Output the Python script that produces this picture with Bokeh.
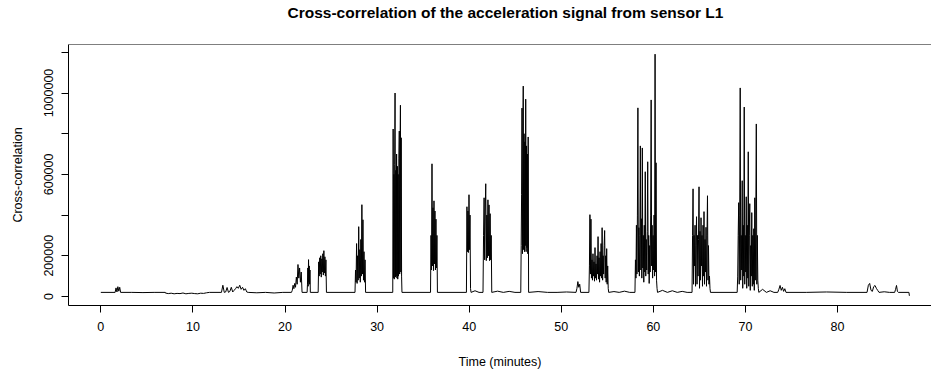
import numpy as np
from bokeh.plotting import figure
from bokeh.models import Range1d, FixedTicker, NumeralTickFormatter, Span, ColumnDataSource, Title
from bokeh.embed import file_html
from bokeh.resources import INLINE

TITLE = "Cross-correlation of the acceleration signal from sensor L1"
X_LABEL = "Time (minutes)"
Y_LABEL = "Cross-correlation"
x_ticks = [0, 10, 20, 30, 40, 50, 60, 70, 80]
y_ticks = [0, 200000, 400000, 600000, 800000, 1000000, 1200000]
y_tick_labels = ["0", "200000", "", "600000", "", "1000000", ""]

# Each segment: (start minute, end minute, values sampled evenly over the span)
quiet_a = (0.00, 1.55, [20000, 20000])
bump_02 = (1.55, 2.15, [20000, 42000, 22000, 48000, 26000, 45000, 20000])
quiet_b = (2.15, 7.00, [20000, 20000, 19000, 20000, 20000])
ripple_09 = (7.00, 11.80, [17000, 14000, 16000, 13000, 15000, 14000, 17000, 13000,
                           15000, 16000, 14000, 13000, 16000, 15000, 18000, 20000])
quiet_c = (11.80, 13.10, [20000, 20000])
cluster_14 = (13.10, 16.00, [20000, 55000, 20000, 22000, 44000, 20000, 25000, 45000,
                             22000, 30000, 38000, 48000, 40000, 55000, 35000, 45000,
                             30000, 38000, 22000, 20000])
quiet_d = (16.00, 20.70, [20000, 18000, 20000, 17000, 20000, 20000])
burst_21 = (20.70, 21.85, [20000, 30000, 55000, 38000, 64000, 45000, 95000, 60000,
                           157000, 90000, 140000, 70000, 120000, 20000])
quiet_e = (21.85, 22.40, [20000, 20000])
burst_22 = (22.40, 22.75, [20000, 60000, 140000, 50000, 181000, 70000, 150000, 60000,
                           130000, 20000])
quiet_f = (22.75, 23.60, [20000, 20000])
burst_24 = (23.60, 24.50, [20000, 170000, 100000, 190000, 110000, 200000, 95000, 185000,
                           120000, 210000, 105000, 225000, 115000, 195000, 100000,
                           180000, 20000])
quiet_g = (24.50, 27.60, [20000, 20000])
burst_28 = (27.60, 28.75, [20000, 130000, 70000, 260000, 64000, 200000, 80000, 343000,
                           90000, 230000, 70000, 280000, 100000, 451000, 110000, 377000,
                           80000, 220000, 70000, 180000, 20000])
quiet_h = (28.75, 31.70, [20000, 20000])
burst_32 = (31.70, 32.70, [20000, 823000, 90000, 600000, 85000, 650000, 1000000, 95000,
                           620000, 100000, 700000, 90000, 640000, 85000, 600000, 100000,
                           680000, 813000, 110000, 720000, 940000, 120000, 780000,
                           100000, 20000])
quiet_i = (32.70, 35.80, [20000, 20000])
burst_36 = (35.80, 36.55, [20000, 300000, 130000, 652000, 150000, 436000, 127000, 470000,
                           160000, 420000, 130000, 380000, 140000, 300000, 20000])
quiet_j = (36.55, 39.70, [20000, 20000])
burst_40 = (39.70, 40.20, [20000, 441000, 220000, 420000, 216000, 500000, 230000, 400000,
                           39000, 20000])
quiet_k = (40.20, 41.50, [20000, 28000, 20000, 20000])
burst_42 = (41.50, 42.45, [20000, 300000, 485000, 180000, 420000, 554000, 176000, 400000,
                           190000, 475000, 200000, 450000, 176000, 407000, 180000,
                           300000, 20000])
quiet_l = (42.45, 45.60, [20000, 26000, 20000, 25000, 20000, 20000])
burst_46 = (45.60, 46.45, [20000, 250000, 500000, 926000, 210000, 750000, 1034000, 230000,
                           800000, 220000, 760000, 250000, 970000, 220000, 740000,
                           240000, 700000, 210000, 784000, 20000])
quiet_m = (46.45, 51.60, [20000, 24000, 20000, 20000, 22000, 20000])
bump_52 = (51.60, 52.10, [20000, 40000, 73000, 45000, 60000, 20000])
quiet_n = (52.10, 53.00, [20000, 20000])
burst_54 = (53.00, 55.15, [20000, 150000, 402000, 110000, 380000, 90000, 180000, 80000,
                           210000, 100000, 170000, 75000, 240000, 90000, 160000, 80000,
                           200000, 110000, 294000, 85000, 190000, 70000, 220000, 100000,
                           260000, 90000, 338000, 80000, 200000, 110000, 250000, 324000,
                           90000, 200000, 70000, 235000, 60000, 150000, 40000, 20000])
quiet_o = (55.15, 58.00, [20000, 24000, 20000, 26000, 20000, 20000])
burst_59 = (58.00, 60.45, [20000, 180000, 90000, 350000, 110000, 400000, 927000, 120000,
                           338000, 100000, 300000, 740000, 130000, 382000, 90000, 730000,
                           140000, 300000, 70000, 350000, 120000, 613000, 100000, 280000,
                           130000, 320000, 662000, 110000, 300000, 64000, 250000, 120000,
                           400000, 966000, 150000, 350000, 90000, 300000, 130000, 400000,
                           100000, 1191000, 120000, 657000, 80000, 40000, 20000])
quiet_p = (60.45, 64.20, [20000, 30000, 20000, 28000, 20000, 25000, 20000, 20000])
burst_65 = (64.20, 66.20, [20000, 300000, 529000, 60000, 300000, 150000, 350000, 50000,
                           250000, 392000, 60000, 300000, 100000, 280000, 539000, 40000,
                           320000, 80000, 387000, 150000, 300000, 50000, 350000, 100000,
                           417000, 60000, 280000, 120000, 340000, 50000, 300000, 495000,
                           80000, 250000, 60000, 100000, 40000, 20000])
quiet_q = (66.20, 69.10, [20000, 20000])
burst_70 = (69.10, 71.45, [20000, 100000, 300000, 461000, 60000, 400000, 1025000, 80000,
                           300000, 130000, 569000, 40000, 350000, 100000, 931000, 60000,
                           300000, 120000, 490000, 40000, 350000, 90000, 711000, 50000,
                           300000, 456000, 30000, 250000, 100000, 412000, 50000, 300000,
                           60000, 333000, 30000, 485000, 80000, 400000, 848000, 60000,
                           300000, 80000, 40000, 20000])
quiet_r = (71.45, 73.50, [20000, 35000, 20000, 28000, 20000, 20000])
bump_74 = (73.50, 74.40, [20000, 35000, 54000, 30000, 45000, 25000, 38000, 20000])
quiet_s = (74.40, 83.20, [20000, 20000, 22000, 20000, 20000])
bump_84 = (83.20, 84.50, [20000, 55000, 64000, 30000, 25000, 48000, 54000, 40000, 30000, 20000])
quiet_t = (84.50, 86.20, [20000, 23000, 20000, 20000])
bump_86 = (86.20, 86.60, [20000, 35000, 54000, 25000, 20000])
quiet_u = (86.60, 87.75, [20000, 20000])
end_drop = (87.75, 87.80, [20000, 3000])

segments = [quiet_a, bump_02, quiet_b, ripple_09, quiet_c, cluster_14, quiet_d, burst_21,
            quiet_e, burst_22, quiet_f, burst_24, quiet_g, burst_28, quiet_h, burst_32,
            quiet_i, burst_36, quiet_j, burst_40, quiet_k, burst_42, quiet_l, burst_46,
            quiet_m, bump_52, quiet_n, burst_54, quiet_o, burst_59, quiet_p, burst_65,
            quiet_q, burst_70, quiet_r, bump_74, quiet_s, bump_84, quiet_t, bump_86,
            quiet_u, end_drop]

t_all, v_all = [], []
for a, b, vals in segments:
    ts = np.linspace(a, b, len(vals))
    for tt, vv in zip(ts, vals):
        if t_all and abs(t_all[-1] - tt) < 1e-9 and v_all[-1] == vv:
            continue
        t_all.append(float(tt))
        v_all.append(vv)

src = ColumnDataSource(data=dict(t=t_all, v=v_all))

x_lo, x_hi = -3.51, 90.2
y_lo, y_hi = -44500, 1238500
FONT = "Liberation Sans"

p = figure(width=931, height=371, output_backend="svg", toolbar_location=None,
           x_range=Range1d(x_lo, x_hi), y_range=Range1d(y_lo, y_hi),
           min_border_left=68, min_border_right=0, min_border_top=44, min_border_bottom=66,
           title=TITLE)
p.background_fill_color = "white"
p.border_fill_color = "white"
p.outline_line_color = None
p.xgrid.grid_line_color = None
p.ygrid.grid_line_color = None

p.title.align = "left"
p.title.offset = 219
p.title.vertical_align = "top"
p.title.text_font = FONT
p.title.text_font_size = "15.5px"
p.title.text_font_style = "bold"
p.title.text_color = "black"
p.title.standoff = 0

# empty spacer between the title and the plot box
p.add_layout(Title(text=" ", text_font_size="2px", standoff=18), "above")

p.line("t", "v", source=src, line_color="black", line_width=1)

for ax in (p.xaxis[0], p.yaxis[0]):
    ax.axis_line_color = "black"
    ax.major_tick_line_color = "black"
    ax.major_tick_out = 7
    ax.major_tick_in = 0
    ax.minor_tick_line_color = None
    ax.major_label_text_font = FONT
    ax.major_label_text_font_size = "12.5px"
    ax.major_label_text_color = "black"
    ax.axis_label_text_font = FONT
    ax.axis_label_text_font_size = "12.5px"
    ax.axis_label_text_font_style = "normal"
    ax.axis_label_text_color = "black"

p.xaxis.ticker = FixedTicker(ticks=x_ticks)
p.xaxis.axis_label = X_LABEL
p.xaxis.major_label_standoff = 9
p.xaxis.axis_label_standoff = 21

p.yaxis.ticker = FixedTicker(ticks=y_ticks)
p.yaxis.formatter = NumeralTickFormatter(format="0")
p.yaxis.major_label_overrides = {tv: lab for tv, lab in zip(y_ticks, y_tick_labels)}
p.yaxis.major_label_orientation = "vertical"
p.yaxis.axis_label = Y_LABEL
p.yaxis.major_label_standoff = 8
p.yaxis.axis_label_standoff = 17

p.add_layout(Span(location=y_hi, dimension="width", line_color="black", line_width=1))

open("out.html", "w").write(file_html(p, INLINE))
